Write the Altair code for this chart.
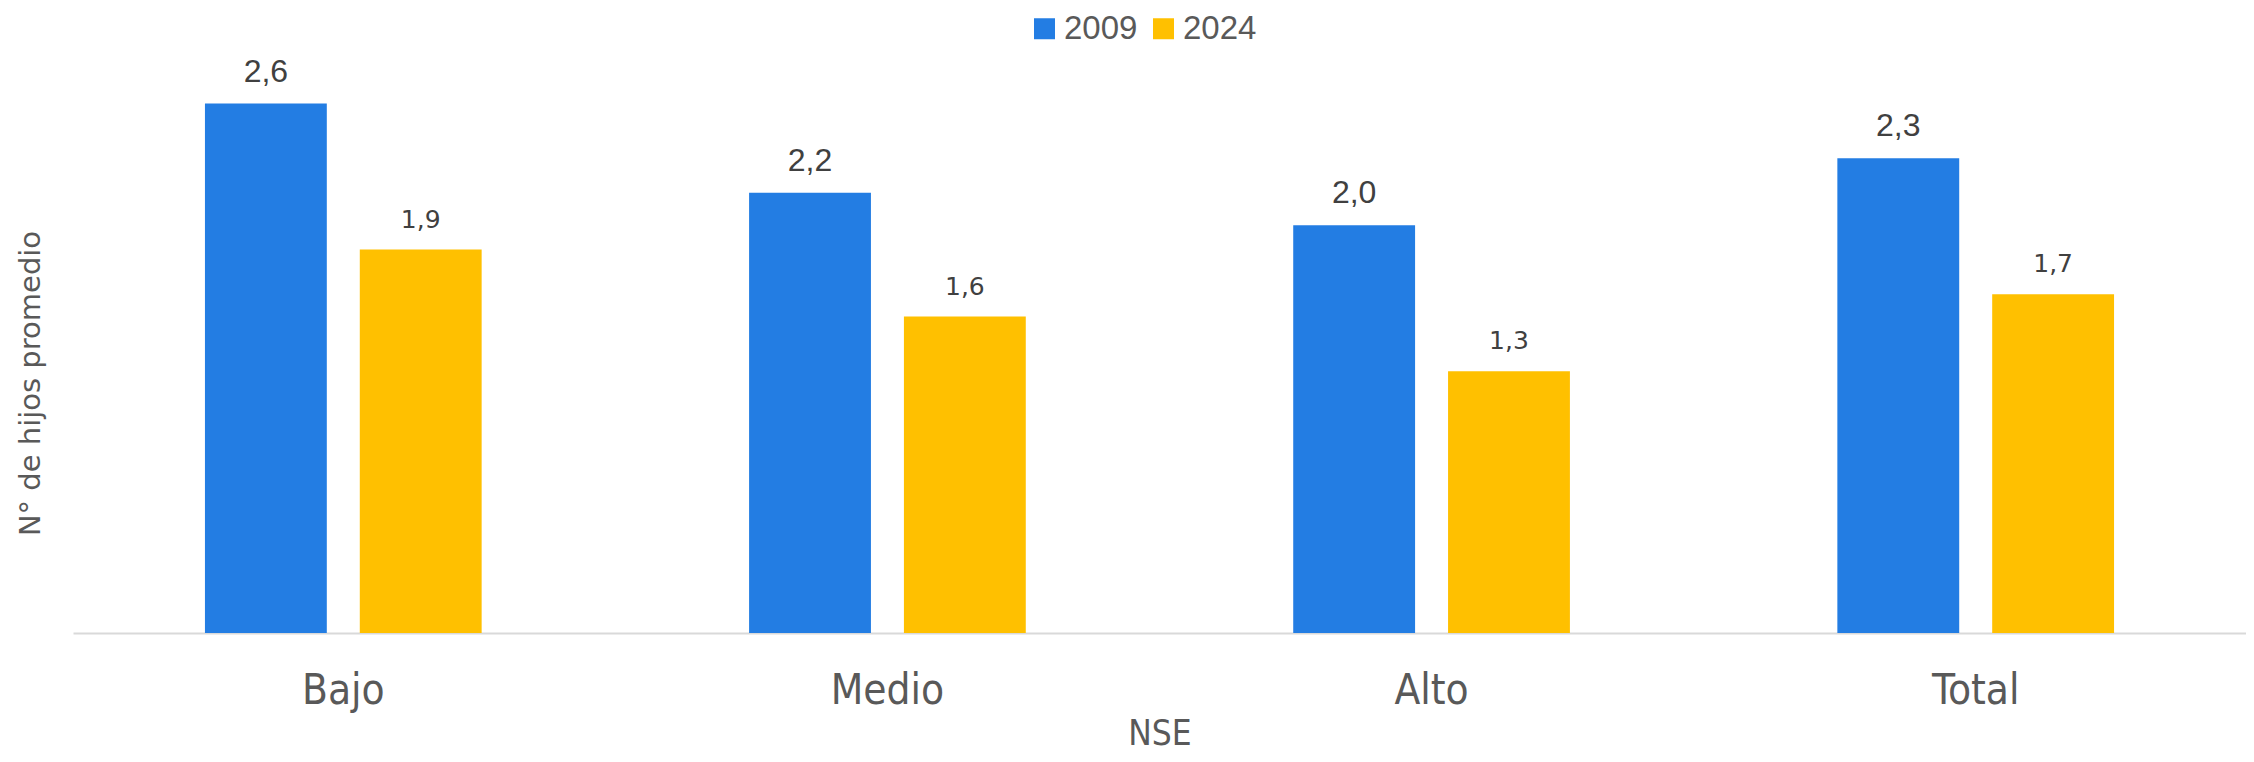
import altair as alt
import pandas as pd

categories = ["Bajo", "Medio", "Alto", "Total"]
years = ["2009", "2024"]
values_2009 = [2.61, 2.17, 2.01, 2.34]
values_2024 = [1.89, 1.56, 1.29, 1.67]
colors = ["#237DE3", "#FFC000"]

rows = []
for yr, vals in zip(years, [values_2009, values_2024]):
    for c, v in zip(categories, vals):
        rows.append({"NSE": c, "Año": yr, "valor": v,
                     "etiqueta": f"{v:.1f}".replace(".", ",")})
df = pd.DataFrame(rows)

W, H = 2173, 568
narrow = "Liberation Sans Narrow, DejaVu Sans Condensed, Liberation Sans"

x_enc = alt.X(
    "NSE:N", sort=categories,
    scale=alt.Scale(paddingInner=0.4915, paddingOuter=0.2425),
    axis=alt.Axis(
        title="NSE", labelAngle=0, ticks=False, tickSize=0,
        domainColor="#D9D9D9", domainWidth=2, grid=False,
        labelFont=narrow, labelFontSize=42, labelColor="#595959",
        labelPadding=70, labelBaseline="alphabetic",
        titleFont=narrow, titleFontSize=35, titleColor="#595959",
        titleFontWeight="normal", titleX=W / 2, titleY=111,
        titleAlign="center", titleBaseline="alphabetic",
    ),
)
xoff = alt.XOffset("Año:N", sort=years,
                   scale=alt.Scale(paddingInner=0.213, paddingOuter=0))
y_enc = alt.Y(
    "valor:Q", scale=alt.Scale(domain=[0, 2.8], nice=False, zero=True),
    axis=alt.Axis(
        title="N° de hijos promedio", labels=False, ticks=False, tickSize=0,
        domain=False, grid=False, titleFont="DejaVu Sans", titleFontSize=29,
        titleColor="#595959", titleFontWeight="normal", titleAngle=270,
        titleX=-43, titleY=318, titleAlign="center", titleBaseline="middle",
    ),
)

bars = alt.Chart(df).mark_bar().encode(
    x=x_enc, xOffset=xoff, y=y_enc,
    color=alt.Color(
        "Año:N", sort=years,
        scale=alt.Scale(domain=years, range=colors),
        legend=alt.Legend(
            orient="none", legendX=955, legendY=-53, direction="horizontal",
            title=None, symbolType="square", symbolSize=441,
            symbolStrokeWidth=0, labelFont="Liberation Sans",
            labelFontSize=33, labelColor="#595959", labelOffset=3,
            columnPadding=9, padding=0,
        ),
    ),
)

lab09 = alt.Chart(df).transform_filter(alt.datum["Año"] == "2009").mark_text(
    font="Liberation Sans", fontSize=32, color="#404040",
    baseline="alphabetic", dy=-22,
).encode(x=x_enc, xOffset=xoff, y=y_enc, text="etiqueta:N")

lab24 = alt.Chart(df).transform_filter(alt.datum["Año"] == "2024").mark_text(
    font="DejaVu Sans", fontSize=25, color="#404040",
    baseline="alphabetic", dy=-22,
).encode(x=x_enc, xOffset=xoff, y=y_enc, text="etiqueta:N")

chart = alt.layer(bars, lab09, lab24).properties(
    width=W, height=H,
    autosize=alt.AutoSizeParams(type="none"),
    padding={"left": 65, "top": 57, "right": 0, "bottom": 121},
).configure_view(stroke=None)

chart.save("out.html", embed_options={"renderer": "svg", "actions": False})
